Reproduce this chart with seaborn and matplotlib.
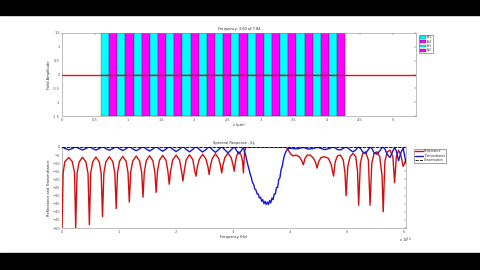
import numpy as np
import pandas as pd
import matplotlib
matplotlib.use("Agg")
import matplotlib.pyplot as plt
import seaborn as sns

# ---------------- data ----------------
# top: layer boundaries (um) of the stack, alternating materials
layer_edges = [0.59, 0.713, 0.836, 0.959, 1.082, 1.205, 1.328, 1.451, 1.574, 1.697,
               1.820, 1.943, 2.066, 2.189, 2.312, 2.435, 2.558, 2.681, 2.804, 2.927,
               3.050, 3.173, 3.296, 3.419, 3.542, 3.665, 3.788, 3.911, 4.034, 4.157, 4.280]
layer_names = ["Er1", "Er2", "Er1", "Er2"]
z_field = [0.0, 5.35]
field = [0.0, 0.0]
z_inner = [0.59, 4.28]
field_inner = [0.0, 0.0]

# bottom: spectral response (frequency in 1e14 Hz, dB)
f_spec = [0.00, 0.02, 0.05, 0.12, 0.18, 0.22, 0.24,
          0.264, 0.30, 0.36, 0.42, 0.456, 0.48,
          0.503, 0.538, 0.595, 0.653, 0.687, 0.71,
          0.734, 0.77, 0.83, 0.89, 0.926, 0.95,
          0.973, 1.008, 1.065, 1.123, 1.157, 1.18,
          1.204, 1.24, 1.30, 1.36, 1.396, 1.42,
          1.443, 1.478, 1.535, 1.593, 1.627, 1.65,
          1.673, 1.708, 1.765, 1.823, 1.857, 1.88,
          1.904, 1.94, 2.00, 2.06, 2.096, 2.12,
          2.143, 2.178, 2.235, 2.293, 2.327, 2.35,
          2.373, 2.408, 2.465, 2.523, 2.557, 2.58,
          2.602, 2.635, 2.69, 2.745, 2.778, 2.80,
          2.822, 2.855, 2.91, 2.965, 2.998, 3.02,
          3.036, 3.06, 3.10, 3.14, 3.165, 3.18,
          3.20, 3.22, 3.25, 3.28, 3.30, 3.32, 3.34, 3.36, 3.38, 3.40,
          3.42, 3.44, 3.46, 3.48, 3.50, 3.52, 3.54, 3.56, 3.58, 3.60,
          3.62, 3.64, 3.66, 3.68, 3.70, 3.72, 3.74, 3.76, 3.78, 3.80,
          3.82, 3.84, 3.86, 3.88, 3.90, 3.93, 3.96, 4.00,
          4.05, 4.10, 4.16, 4.21, 4.23, 4.26, 4.30, 4.35, 4.41, 4.45, 4.47,
          4.50, 4.54, 4.60, 4.67, 4.72, 4.76, 4.79, 4.83, 4.88, 4.93, 4.96, 4.98,
          5.01, 5.05, 5.10, 5.15, 5.18, 5.20, 5.23, 5.27, 5.32, 5.37, 5.40,
          5.43, 5.47, 5.52, 5.57, 5.61, 5.63, 5.66, 5.70, 5.75, 5.80, 5.83,
          5.86, 5.90, 5.94, 5.98, 6.03]
refl = [-50, -16, -9, -6.5, -9, -16, -50,
        -16.3, -9.3, -6.3, -9.3, -16.3, -48,
        -16.2, -9.2, -6.2, -9.2, -16.2, -43,
        -16, -9, -6, -9, -16, -38,
        -15.8, -8.8, -5.8, -8.8, -15.8, -34,
        -15.6, -8.6, -5.6, -8.6, -15.6, -31,
        -15.4, -8.4, -5.4, -8.4, -15.4, -28,
        -15.2, -8.2, -5.2, -8.2, -15.2, -23,
        -15, -8, -5, -8, -15, -21,
        -14.8, -7.8, -4.8, -7.8, -14.8, -18,
        -12, -7.5, -4.5, -7.5, -12, -17,
        -11.5, -7, -4.2, -7, -11.5, -16,
        -11, -6.5, -3.8, -6.5, -11, -15,
        -10, -5.5, -3.0, -5.0, -9, -16,
        -3, -0.5, 0, 0, 0, 0, 0, 0, 0, 0,
        0, 0, 0, 0, 0, 0, 0, 0, 0, 0,
        0, 0, 0, 0, 0, 0, 0, 0, 0, 0,
        0, 0, 0, 0, 0, -0.3, -1.5, -4,
        -5.5, -5, -6, -9, -11, -7, -5, -5, -7, -10, -13,
        -9, -6.5, -6, -7, -11, -18, -9, -5.5, -5, -8, -16, -30,
        -12, -6, -4, -6, -15, -36, -10, -4, -3, -8, -36,
        -10, -4, -3, -6, -18, -40, -9, -3, -2, -6, -22,
        -6, -2, -5, -12, -8]
trans = [0, -0.2, -0.9, -1.8, -0.9, -0.2, 0,
         -0.2, -0.95, -1.85, -0.95, -0.2, 0,
         -0.2, -0.95, -1.9, -0.95, -0.2, 0,
         -0.2, -1.0, -2.0, -1.0, -0.2, 0,
         -0.22, -1.1, -2.15, -1.1, -0.22, 0,
         -0.24, -1.15, -2.3, -1.15, -0.24, 0,
         -0.25, -1.25, -2.5, -1.25, -0.25, 0,
         -0.26, -1.3, -2.6, -1.3, -0.26, 0,
         -0.28, -1.4, -2.8, -1.4, -0.28, -0.05,
         -0.3, -1.5, -3.0, -1.5, -0.3, -0.1,
         -0.4, -1.55, -3.1, -1.55, -0.4, -0.15,
         -0.45, -1.65, -3.3, -1.65, -0.45, -0.2,
         -0.5, -1.8, -3.6, -1.8, -0.5, -0.25,
         -0.6, -2.2, -4.2, -2.5, -0.9, -0.4,
         -3, -5, -10, -14, -17, -19, -22, -23, -26, -26.5,
         -29, -29, -31.5, -31, -33.5, -32.5, -35, -33.5, -35.5, -34,
         -35.5, -33, -34.5, -31.5, -32.5, -29, -29, -25, -25, -20,
         -19, -14, -12, -8, -5, -2.5, -1.2, -0.8,
         -0.9, -1.2, -0.9, -0.4, -0.3, -0.6, -1.2, -1.2, -0.9, -0.4, -0.3,
         -0.4, -0.9, -1.6, -1.1, -0.4, -0.1, -0.6, -1.6, -1.8, -0.9, -0.3, -0.1,
         -0.5, -1.8, -3.0, -1.8, -0.4, -0.1, -0.8, -3.0, -4.0, -1.5, -0.1,
         -0.8, -3.5, -4.5, -2.4, -0.4, -0.1, -1.2, -4.5, -6.5, -2.4, -0.4,
         -2.4, -8.5, -3.5, -0.6, -10]
conserv_f = [0.0, 6.03]
conserv = [0.0, 0.0]

# ---------------- figure ----------------
sns.set_style("white")
plt.rcParams["font.family"] = ["DejaVu Sans"]
fig = plt.figure(figsize=(4.8, 2.7), dpi=100)
fig.patch.set_facecolor("white")
fig.add_artist(plt.Rectangle((0, 1 - 15 / 270), 1, 15 / 270, transform=fig.transFigure,
                             color="black", zorder=0))
fig.add_artist(plt.Rectangle((0, 0), 1, 17 / 270, transform=fig.transFigure,
                             color="black", zorder=0))

fs = 2.6
spine_col = "#8c8c8c"

def style(ax):
    for s in ax.spines.values():
        s.set_color(spine_col)
        s.set_linewidth(0.4)
    ax.tick_params(direction="in", length=1.5, width=0.3, colors="#555555",
                   labelsize=fs, pad=1.5, top=True, right=True)

# ----- top axes -----
ax1 = fig.add_axes([62 / 480, 1 - 116 / 270, 354 / 480, 83 / 270])
cols = ["#00ffff", "#ff00ff"]
handles = []
for i in range(len(layer_edges) - 1):
    h = ax1.axvspan(layer_edges[i], layer_edges[i + 1], color=cols[i % 2],
                    ec="#202020", lw=0.2, zorder=1)
    if i < 4:
        handles.append(h)
df_f = pd.DataFrame({"z": z_field, "E": field})
sns.lineplot(data=df_f, x="z", y="E", ax=ax1, color="#e8101a", lw=1.0, zorder=3)
df_i = pd.DataFrame({"z": z_inner, "E": field_inner})
sns.lineplot(data=df_i, x="z", y="E", ax=ax1, color="#602020", lw=0.3, zorder=4)
ax1.set_xlim(0, 5.35)
ax1.set_ylim(-1.5, 1.5)
ax1.set_xticks([0, 0.5, 1, 1.5, 2, 2.5, 3, 3.5, 4, 4.5, 5])
ax1.set_xticklabels(["0", "0.5", "1", "1.5", "2", "2.5", "3", "3.5", "4", "4.5", "5"])
ax1.set_yticks([-1.5, -1, -0.5, 0, 0.5, 1, 1.5])
ax1.set_yticklabels(["-1.5", "-1", "-0.5", "0", "0.5", "1", "1.5"])
ax1.set_xlabel("z (\u00b5m)", fontsize=fs, labelpad=1)
ax1.set_ylabel("Field Amplitude", fontsize=fs, labelpad=1)
ax1.set_title("Frequency: 3.60 of 7.84", fontsize=fs, pad=2)
style(ax1)
leg1 = ax1.legend(handles, layer_names, loc="upper left", bbox_to_anchor=(1.003, 1.0),
                  fontsize=2.2, handlelength=2.2, handleheight=0.9, borderpad=0.3,
                  labelspacing=0.1, handletextpad=0.3, frameon=True, fancybox=False)
leg1.get_frame().set_edgecolor("#333333")
leg1.get_frame().set_linewidth(0.4)

# ----- bottom axes -----
ax2 = fig.add_axes([62 / 480, 1 - 228 / 270, 344 / 480, 81 / 270])
df_s = pd.DataFrame({"f": f_spec, "R": refl, "T": trans})
sns.lineplot(data=df_s, x="f", y="R", ax=ax2, color="#d01010", lw=1.0,
             label="Reflectance", sort=False, zorder=3)
sns.lineplot(data=df_s, x="f", y="T", ax=ax2, color="#1a1ac8", lw=1.0,
             label="Transmittance", sort=False, zorder=4)
df_c = pd.DataFrame({"f": conserv_f, "C": conserv})
sns.lineplot(data=df_c, x="f", y="C", ax=ax2, color="black", lw=0.6, ls="--",
             label="Conservation", zorder=5)
ax2.set_xlim(0, 6.03)
ax2.set_ylim(-50, 0)
ax2.set_xticks([0, 1, 2, 3, 4, 5, 6])
ax2.set_xticklabels(["0", "1", "2", "3", "4", "5", "6"])
ax2.set_yticks(list(range(-50, 1, 5)))
ax2.set_xlabel("Frequency (Hz)", fontsize=fs, labelpad=1)
ax2.set_ylabel("Reflectance and Transmittance", fontsize=fs, labelpad=1)
ax2.set_title("Spectral Response - Ey", fontsize=fs, pad=2)
ax2.text(1.0, -0.1, "x 10$^{14}$", transform=ax2.transAxes, fontsize=fs,
         ha="center", va="top", color="#333333")
style(ax2)
leg2 = ax2.legend(loc="upper left", bbox_to_anchor=(1.02, 1.0), fontsize=2.2,
                  handlelength=2.5, borderpad=0.3, labelspacing=0.1,
                  handletextpad=0.3, frameon=True, fancybox=False)
leg2.get_frame().set_edgecolor("#333333")
leg2.get_frame().set_linewidth(0.4)

fig.savefig("out.png", dpi=100, facecolor="white")
